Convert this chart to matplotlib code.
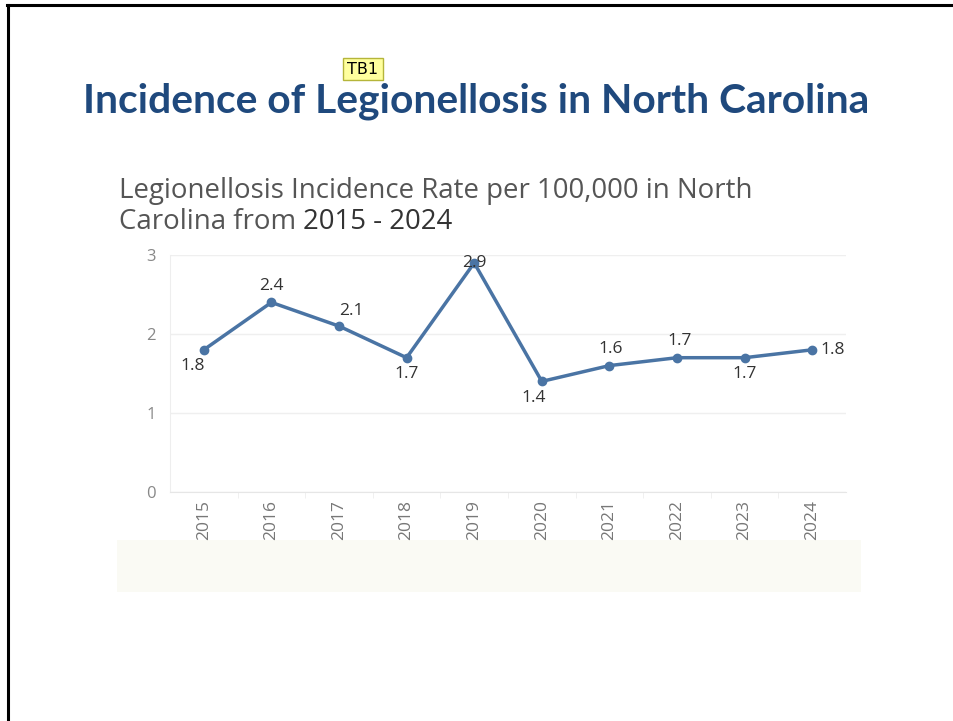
import matplotlib.pyplot as plt
from matplotlib.patches import Rectangle
from matplotlib.lines import Line2D

# Data
years = ['2015', '2016', '2017', '2018', '2019', '2020', '2021', '2022', '2023', '2024']
rates = [1.8, 2.4, 2.1, 1.7, 2.9, 1.4, 1.6, 1.7, 1.7, 1.8]
yticks = [0, 1, 2, 3]

# where each value label sits relative to its point (points)
label_offsets = [(-8, -12), (0, 12), (9, 11), (0, -12), (0, 0),
                 (-6, -12), (1, 12), (2, 12), (0, -12), (6, 0)]

W, H = 954, 721
fig = plt.figure(figsize=(W / 100, H / 100), dpi=100)
fig.patch.set_facecolor('white')

def fx(px):
    return px / W

def fy(py):
    return 1 - py / H

# slide border (top and left)
fig.add_artist(Line2D([fx(7), 1], [fy(5), fy(5)], color='black', lw=2.2))
fig.add_artist(Line2D([fx(8), fx(8)], [fy(5), 0], color='black', lw=2.2))

# title
fig.text(fx(476), fy(101), 'Incidence of Legionellosis in North Carolina',
         ha='center', va='center', fontsize=29.3, fontweight='bold',
         family='Lato', color='#1F497D')

# comment tag
fig.text(fx(363), fy(69), 'TB1', ha='center', va='center', fontsize=11.5,
         family='Liberation Sans Narrow', color='black',
         bbox=dict(boxstyle='square,pad=0.25', facecolor='#FFFF9E',
                   edgecolor='#B5B53A', lw=1))

# subtitle
sub_kw = dict(ha='left', va='center', fontsize=19.9, family='Open Sans')
fig.text(fx(119), fy(191), 'Legionellosis Incidence Rate per 100,000 in North',
         color='#555555', **sub_kw)
t = fig.text(fx(119), fy(222), 'Carolina from ', color='#555555', **sub_kw)
fig.canvas.draw()
bb = t.get_window_extent()
fig.text(bb.x1 / W, fy(222), '2015 - 2024', color='#333333', **sub_kw)

# light band under the chart
fig.add_artist(Rectangle((fx(117), fy(592)), fx(861) - fx(117), fy(540) - fy(592),
                         transform=fig.transFigure, facecolor='#FAFAF4',
                         edgecolor='none', zorder=0))

ax = fig.add_axes([fx(170), fy(492), fx(846) - fx(170), fy(255) - fy(492)])
x = list(range(len(years)))
ax.plot(x, rates, color='#4A74A4', lw=2.5, marker='o', markersize=6,
        clip_on=False, zorder=3)

for xi, v, (dx, dy) in zip(x, rates, label_offsets):
    ha = 'left' if xi == len(years) - 1 else 'center'
    ax.annotate(f'{v:.1f}', (xi, v), xytext=(dx, dy), textcoords='offset points',
                ha=ha, va='center', fontsize=12.5, family='Open Sans',
                color='#333333', zorder=4)

ax.set_xlim(-0.5, len(years) - 0.5)
ax.set_ylim(0, 3)
ax.set_yticks(yticks)
ax.set_yticklabels([str(t) for t in yticks], family='Open Sans', fontsize=12,
                   color='#888888')
ax.set_xticks(x)
ax.set_xticklabels(years, rotation=90, family='Open Sans', fontsize=12.5,
                   color='#777777')
ax.set_xticks([i + 0.5 for i in x[:-1]], minor=True)
ax.tick_params(axis='x', which='major', length=0, pad=6)
ax.tick_params(axis='x', which='minor', length=4, color='#eeeeee')
ax.tick_params(axis='y', length=0, pad=10)

ax.grid(axis='y', color='#efefef', lw=1)
ax.set_axisbelow(True)
for s in ['top', 'right']:
    ax.spines[s].set_visible(False)
ax.spines['left'].set_color('#eeeeee')
ax.spines['bottom'].set_color('#e6e6e6')

fig.savefig('out.png', dpi=100)
